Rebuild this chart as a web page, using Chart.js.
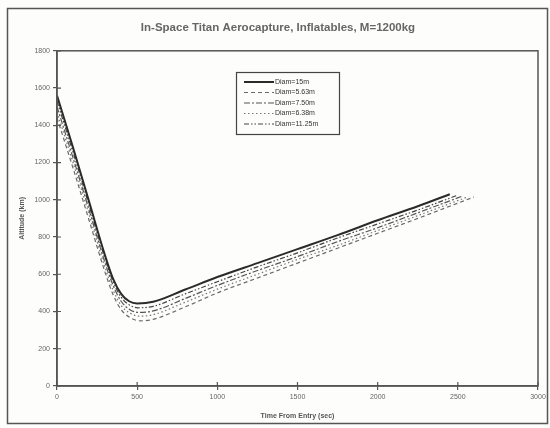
<!DOCTYPE html>
<html>
<head>
<meta charset="utf-8">
<script src="https://cdn.jsdelivr.net/npm/chart.js@4.4.0/dist/chart.umd.min.js"></script>
<style>
  html, body { margin: 0; padding: 0; background: #fbfbf9; }
  #wrap { position: relative; width: 550px; height: 428px; }
</style>
</head>
<body>
<div id="wrap"><canvas id="myChart" width="550" height="428"></canvas></div>
<script>
// TICKS
var xTicks = [0, 500, 1000, 1500, 2000, 2500, 3000];
var yTicks = [0, 200, 400, 600, 800, 1000, 1200, 1400, 1600, 1800];

// SERIES (time in sec, altitude in km)
var time15 = [0, 100, 200, 300, 350, 400, 450, 500, 600, 800, 1000, 1250, 1500, 1750, 2000, 2250, 2450];
var alt15  = [1560, 1280, 990, 700, 575, 495, 455, 443, 452, 518, 585, 660, 735, 810, 890, 965, 1030];

var time563 = [0, 100, 200, 300, 350, 400, 460, 520, 600, 800, 1000, 1250, 1500, 1750, 2000, 2250, 2600];
var alt563  = [1440, 1170, 890, 610, 490, 410, 365, 350, 358, 425, 500, 580, 660, 740, 820, 900, 1015];

var time750 = [0, 100, 200, 300, 350, 400, 455, 510, 600, 800, 1000, 1250, 1500, 1750, 2000, 2250, 2530];
var alt750  = [1500, 1225, 945, 660, 540, 455, 410, 395, 403, 470, 540, 620, 695, 775, 850, 930, 1020];

var time638 = [0, 100, 200, 300, 350, 400, 458, 515, 600, 800, 1000, 1250, 1500, 1750, 2000, 2250, 2560];
var alt638  = [1470, 1200, 920, 635, 515, 433, 390, 375, 383, 450, 520, 600, 680, 755, 835, 915, 1015];

var time1125 = [0, 100, 200, 300, 350, 400, 452, 505, 600, 800, 1000, 1250, 1500, 1750, 2000, 2250, 2500];
var alt1125  = [1530, 1255, 970, 682, 560, 477, 435, 420, 428, 495, 560, 640, 715, 795, 870, 945, 1025];

function toPoints(xs, ys) {
  return xs.map(function (x, i) { return { x: x, y: ys[i] }; });
}

// FRAME + PLOT BOX + INNER TICKS + LEGEND
var framePlugin = {
  id: "frame",
  beforeDraw: function (chart) {
    var c = chart.ctx;
    c.save();
    c.fillStyle = "#fdfdfc";
    c.fillRect(0, 0, chart.width, chart.height);
    c.strokeStyle = "#555";
    c.lineWidth = 1.5;
    c.strokeRect(7.5, 8.5, 540, 415);
    c.restore();
  },
  afterDraw: function (chart) {
    var c = chart.ctx;
    var a = chart.chartArea;
    c.save();
    c.strokeStyle = "#555";
    c.lineWidth = 1.5;
    c.strokeRect(a.left, a.top, a.right - a.left, a.bottom - a.top);

    // inner half of the crossing tick marks
    c.lineWidth = 1.2;
    c.beginPath();
    xTicks.forEach(function (v) {
      var px = chart.scales.x.getPixelForValue(v);
      c.moveTo(px, a.bottom);
      c.lineTo(px, a.bottom - 4);
    });
    yTicks.forEach(function (v) {
      var py = chart.scales.y.getPixelForValue(v);
      c.moveTo(a.left, py);
      c.lineTo(a.left + 4, py);
    });
    c.stroke();

    // legend box
    var lx = 236, ly = 72, lw = 103, lh = 62;
    c.fillStyle = "#fdfdfc";
    c.fillRect(lx, ly, lw, lh);
    c.strokeStyle = "#444";
    c.lineWidth = 1.2;
    c.strokeRect(lx + 0.5, ly + 0.5, lw, lh);
    c.font = "7px 'Liberation Sans', Arial, sans-serif";
    c.textBaseline = "middle";
    chart.data.datasets.forEach(function (ds, i) {
      var yy = ly + 10 + i * 10.5;
      c.strokeStyle = ds.borderColor;
      c.lineWidth = ds.borderWidth;
      c.setLineDash(ds.borderDash || []);
      c.beginPath();
      c.moveTo(lx + 8, yy);
      c.lineTo(lx + 38, yy);
      c.stroke();
      c.setLineDash([]);
      c.fillStyle = "#333";
      c.fillText(ds.label, lx + 39, yy);
    });
    c.restore();
  },
};

var fontFam = "'Liberation Sans', Arial, sans-serif";

new Chart(document.getElementById("myChart"), {
  type: "line",
  data: {
    datasets: [
      {
        label: "Diam=15m",
        data: toPoints(time15, alt15),
        borderColor: "#2b2b2b",
        borderWidth: 2,
      },
      {
        label: "Diam=5.63m",
        data: toPoints(time563, alt563),
        borderColor: "#6a6a6a",
        borderWidth: 1.2,
        borderDash: [4, 3],
      },
      {
        label: "Diam=7.50m",
        data: toPoints(time750, alt750),
        borderColor: "#555",
        borderWidth: 1.2,
        borderDash: [6, 2, 2, 2],
      },
      {
        label: "Diam=6.38m",
        data: toPoints(time638, alt638),
        borderColor: "#777",
        borderWidth: 1.2,
        borderDash: [1.5, 2.5],
      },
      {
        label: "Diam=11.25m",
        data: toPoints(time1125, alt1125),
        borderColor: "#444",
        borderWidth: 1.2,
        borderDash: [5, 2, 1.5, 2, 1.5, 2],
      },
    ],
  },
  options: {
    responsive: false,
    animation: false,
    layout: { padding: { left: 18, top: 6, right: 12, bottom: 8 } },
    elements: { point: { radius: 0 }, line: { cubicInterpolationMode: "monotone" } },
    plugins: {
      legend: { display: false },
      tooltip: { enabled: false },
      title: {
        display: true,
        text: "In-Space Titan Aerocapture, Inflatables, M=1200kg",
        color: "#666",
        font: { family: fontFam, size: 11.5, weight: "bold" },
        padding: { top: 15, bottom: 16 },
      },
    },
    scales: {
      x: {
        type: "linear",
        min: 0,
        max: 3000,
        afterBuildTicks: function (scale) {
          scale.ticks = xTicks.map(function (v) { return { value: v }; });
        },
        afterFit: function (scale) { scale.height = 34; },
        grid: { drawOnChartArea: false, tickLength: 4, color: "#555", lineWidth: 1.2 },
        border: { color: "#555", width: 1.5 },
        ticks: {
          color: "#666",
          font: { family: fontFam, size: 7 },
          maxRotation: 0,
          padding: 3,
          callback: function (v) { return String(v); },
        },
        title: {
          display: true,
          text: "Time From Entry (sec)",
          color: "#555",
          font: { family: fontFam, size: 7, weight: "bold" },
          padding: { top: 4, bottom: 0 },
        },
      },
      y: {
        type: "linear",
        min: 0,
        max: 1800,
        afterBuildTicks: function (scale) {
          scale.ticks = yTicks.map(function (v) { return { value: v }; });
        },
        afterFit: function (scale) { scale.width = 39; },
        grid: { drawOnChartArea: false, tickLength: 4, color: "#555", lineWidth: 1.2 },
        border: { color: "#555", width: 1.5 },
        ticks: {
          color: "#666",
          font: { family: fontFam, size: 7 },
          padding: 3,
          callback: function (v) { return String(v); },
        },
        title: {
          display: true,
          text: "Altitude (km)",
          color: "#555",
          font: { family: fontFam, size: 7, weight: "bold" },
          padding: { top: 0, bottom: 4 },
        },
      },
    },
  },
  plugins: [framePlugin],
});
</script>
</body>
</html>
